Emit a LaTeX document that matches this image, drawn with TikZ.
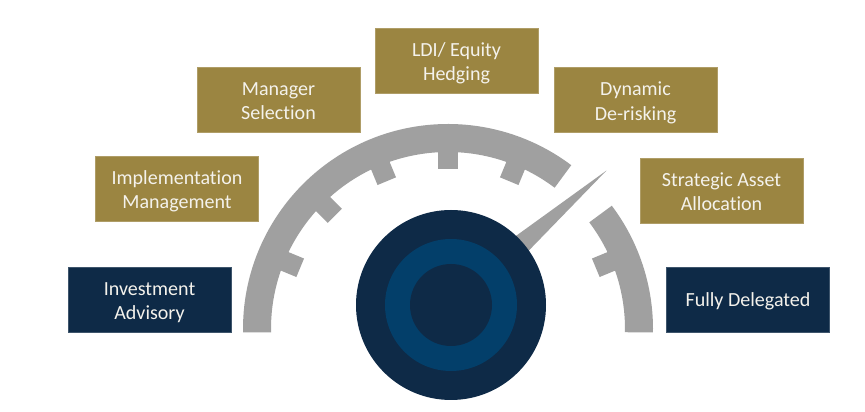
\documentclass[tikz,border=0pt]{standalone}
\usepackage{fontspec}
\setmainfont{Carlito}[RawFeature={-liga}]
\usetikzlibrary{positioning,calc}
\definecolor{gaugegold}{HTML}{9B8541}
\definecolor{gaugenavy}{HTML}{0E2A47}
\definecolor{gaugeblue}{HTML}{033F6A}
\definecolor{gaugegray}{HTML}{A0A0A0}
\definecolor{labeltext}{HTML}{F4F2EC}

\begin{document}
\begin{tikzpicture}[x=0.2mm,y=0.2mm,
    stagebox/.style={minimum width=3.26cm, minimum height=1.3cm, inner sep=2pt,
        align=center, text=labeltext, font=\fontsize{11.4}{14.2}\selectfont,
        text height=25.9pt, text depth=2.6pt},
    goldbox/.style={stagebox, fill=gaugegold, draw=gaugegold!80!white, line width=0.4pt},
    navybox/.style={stagebox, fill=gaugenavy, draw=gaugenavy!80!white, line width=0.4pt}]
    \useasboundingbox (0,0) rectangle (865,412);
    \fill[white] (0,0) rectangle (865,412);

    \coordinate (g) at (448,83);   % centre of the scale
    \coordinate (d) at (451,107);  % centre of the dial

%   scale ring, split where the needle points
    \draw[gaugegray, line width=0.56cm] (g) ++(181:191) arc[start angle=181, end angle=53, radius=191];
    \draw[gaugegray, line width=0.56cm] (g) ++(37:191) arc[start angle=37, end angle=-1, radius=191];
    \foreach \a in {22.5,67.5,90,112.5,135,157.5} {
        \draw[gaugegray, line width=0.4cm] (g) ++(\a:178) -- ++(\a:-18);
    }

%   needle
    \coordinate (tip) at ($(g)+(45:224)$);
    \fill[gaugegray] (tip) -- ($(d)+(130.9:18)$) -- ($(d)+(-49.1:18)$) -- cycle;

%   dial
    \fill[gaugenavy] (d) circle (95);
    \fill[gaugeblue] (d) circle (66);
    \fill[gaugenavy] (d) circle (41);

%   stages
    \node[navybox] (advisory)  at (149.5,112.5) {Investment\\Advisory};
    \node[goldbox] (implement) at (177,223.5)   {Implementation\\Management};
    \node[goldbox] (manager)   at (278.5,312.5) {Manager\\Selection};
    \node[goldbox] (ldi)       at (456.5,351.5) {LDI/ Equity\\Hedging};
    \node[goldbox] (dynamic)   at (635.5,312)   {Dynamic\\De-risking};
    \node[goldbox] (strategic) at (721.5,221.5) {Strategic Asset\\Allocation};
    \node[navybox, text height=11.1pt] (delegated) at (748,112.5) {Fully Delegated};
\end{tikzpicture}
\end{document}
